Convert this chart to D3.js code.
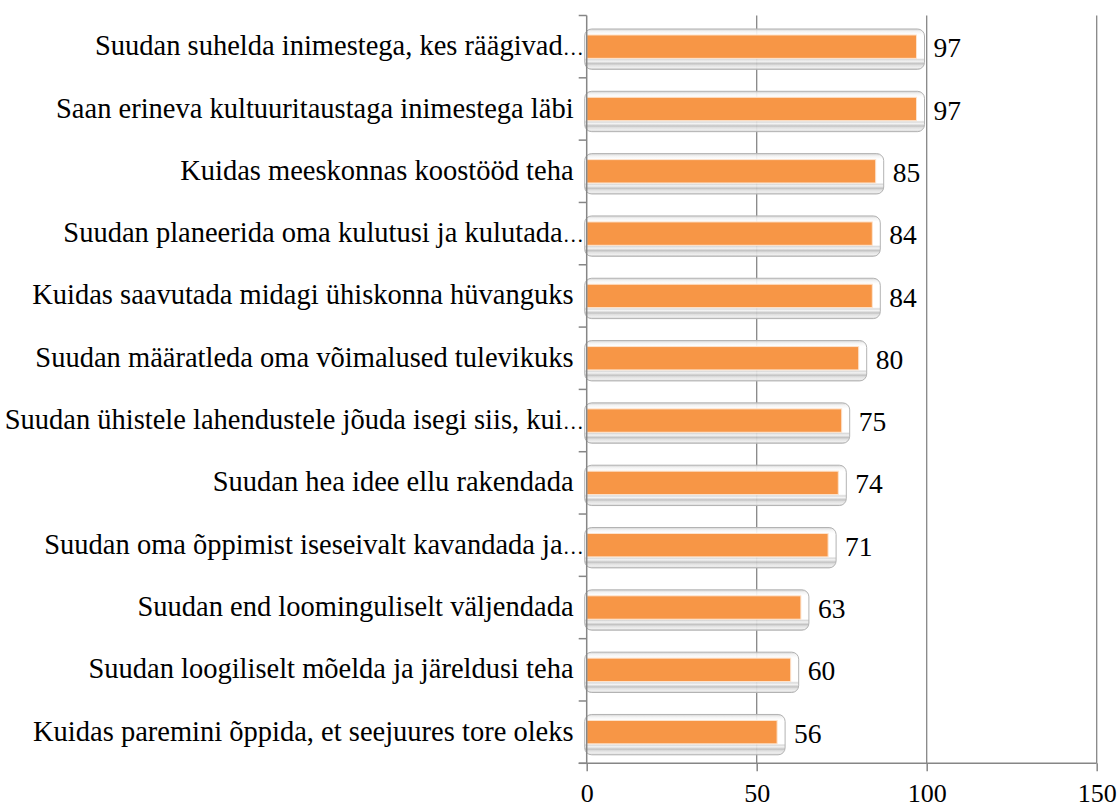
<!DOCTYPE html>
<html>
<head>
<meta charset="utf-8">
<script src="https://cdn.jsdelivr.net/npm/d3@7"></script>
<style>
  body { margin: 0; background: #fff; }
  .cat { white-space: pre; }
</style>
</head>
<body>
<svg id="chart"></svg>
<script>
// data (top to bottom)
const labels = [
    "Suudan suhelda inimestega, kes räägivad…",
    "Saan erineva kultuuritaustaga inimestega läbi ",
    "Kuidas meeskonnas koostööd teha ",
    "Suudan planeerida oma kulutusi ja kulutada…",
    "Kuidas saavutada midagi ühiskonna hüvanguks ",
    "Suudan määratleda oma võimalused tulevikuks ",
    "Suudan ühistele lahendustele jõuda isegi siis, kui…",
    "Suudan hea idee ellu rakendada ",
    "Suudan oma õppimist iseseivalt kavandada ja…",
    "Suudan end loominguliselt väljendada ",
    "Suudan loogiliselt mõelda ja järeldusi teha ",
    "Kuidas paremini õppida, et seejuures tore oleks "
];
const values = [97, 97, 85, 84, 84, 80, 75, 74, 71, 63, 60, 56];
const xTicks = [0, 50, 100, 150];

const FONT = "Liberation Serif, Times New Roman, serif";
const W = 1120, H = 809;
const margin = { top: 15.5, right: 23.3, bottom: 45.7, left: 586.7 };
const width = W - margin.left - margin.right;
const height = H - margin.top - margin.bottom;

const data = labels.map((label, i) => ({ label, value: values[i] }));

const svg = d3.select("#chart").attr("width", W).attr("height", H);

const defs = svg.append("defs");
const grad = defs.append("linearGradient")
    .attr("id", "bevel").attr("x1", 0).attr("y1", 0).attr("x2", 0).attr("y2", 1);
[
    [0, "#cfcfcf"], [0.06, "#f2f2f2"], [0.14, "#ffffff"], [0.72, "#ffffff"],
    [0.76, "#d6d6d6"], [0.8, "#f3f3f3"], [0.86, "#bdbdbd"], [0.9, "#dedede"],
    [0.96, "#eeeeee"], [1, "#c4c4c4"]
].forEach(([o, c]) => grad.append("stop").attr("offset", o).attr("stop-color", c));

const g = svg.append("g").attr("transform", `translate(${margin.left},${margin.top})`);

const x = d3.scaleLinear().domain([0, 150]).range([0, width]);
const y = d3.scaleBand().domain(labels).range([0, height]).paddingInner(0).paddingOuter(0);

// gridlines
g.append("g")
    .selectAll("line")
    .data(xTicks.filter(d => d > 0))
    .join("line")
    .attr("x1", d => x(d)).attr("x2", d => x(d))
    .attr("y1", 0).attr("y2", height)
    .attr("stroke", "#868686").attr("stroke-width", 1.3);

// bars
const barH = y.bandwidth() * 0.375;
const bars = g.append("g").selectAll("g").data(data).join("g")
    .attr("transform", d => `translate(0,${y(d.label) + (y.bandwidth() - barH) / 2})`);

bars.append("rect")
    .attr("x", -2)
    .attr("y", -6)
    .attr("width", d => x(d.value) + 10)
    .attr("height", barH + 17)
    .attr("rx", 7)
    .attr("fill", "url(#bevel)")
    .attr("fill-opacity", 0.92)
    .attr("stroke", "#b3b3b3")
    .attr("stroke-width", 1);

bars.append("rect")
    .attr("x", 0)
    .attr("y", 0)
    .attr("width", d => x(d.value))
    .attr("height", barH)
    .attr("fill", "#F79646")
    .attr("stroke", "#fde3cd")
    .attr("stroke-width", 1);

// value labels
bars.append("text")
    .attr("x", d => x(d.value) + 17)
    .attr("y", barH / 2)
    .attr("dy", "0.385em")
    .attr("font-family", FONT)
    .attr("font-size", 27.5)
    .attr("fill", "#000")
    .text(d => d.value);

// y axis
const yAxis = g.append("g");
yAxis.append("line")
    .attr("x1", 0).attr("x2", 0).attr("y1", 0).attr("y2", height)
    .attr("stroke", "#868686").attr("stroke-width", 1.5);
yAxis.selectAll(".tk").data(labels.map(l => y(l)).concat([height]))
    .join("line")
    .attr("class", "tk")
    .attr("x1", -8).attr("x2", 0)
    .attr("y1", d => d).attr("y2", d => d)
    .attr("stroke", "#868686").attr("stroke-width", 1.5);
const cats = yAxis.selectAll(".cat").data(labels)
    .join("text")
    .attr("class", "cat")
    .attr("x", d => d.endsWith("…") ? -3 : -6)
    .attr("y", d => y(d) + y.bandwidth() / 2)
    .attr("dy", "0.3em")
    .attr("text-anchor", "end")
    .attr("font-family", FONT)
    .attr("font-size", 28.5)
    .attr("fill", "#000");
// narrow ellipsis, like the truncated labels in the original
cats.each(function (d) {
    const t = d3.select(this);
    if (d.endsWith("…")) {
        t.append("tspan").text(d.slice(0, -1));
        t.append("tspan").attr("font-size", 21).text("…");
    } else {
        t.text(d);
    }
});

// x axis
const xAxis = g.append("g").attr("transform", `translate(0,${height})`)
    .call(d3.axisBottom(x).tickValues(xTicks).tickSize(8).tickSizeOuter(0));
xAxis.select(".domain").attr("stroke", "#868686").attr("stroke-width", 1.5)
    .attr("d", `M-8,0H${width}`);
xAxis.selectAll(".tick line").attr("stroke", "#868686").attr("stroke-width", 1.5);
xAxis.selectAll(".tick text")
    .attr("y", 802 - margin.top - height)
    .attr("dy", 0)
    .attr("font-family", FONT)
    .attr("font-size", 26)
    .attr("fill", "#000");
</script>
</body>
</html>
